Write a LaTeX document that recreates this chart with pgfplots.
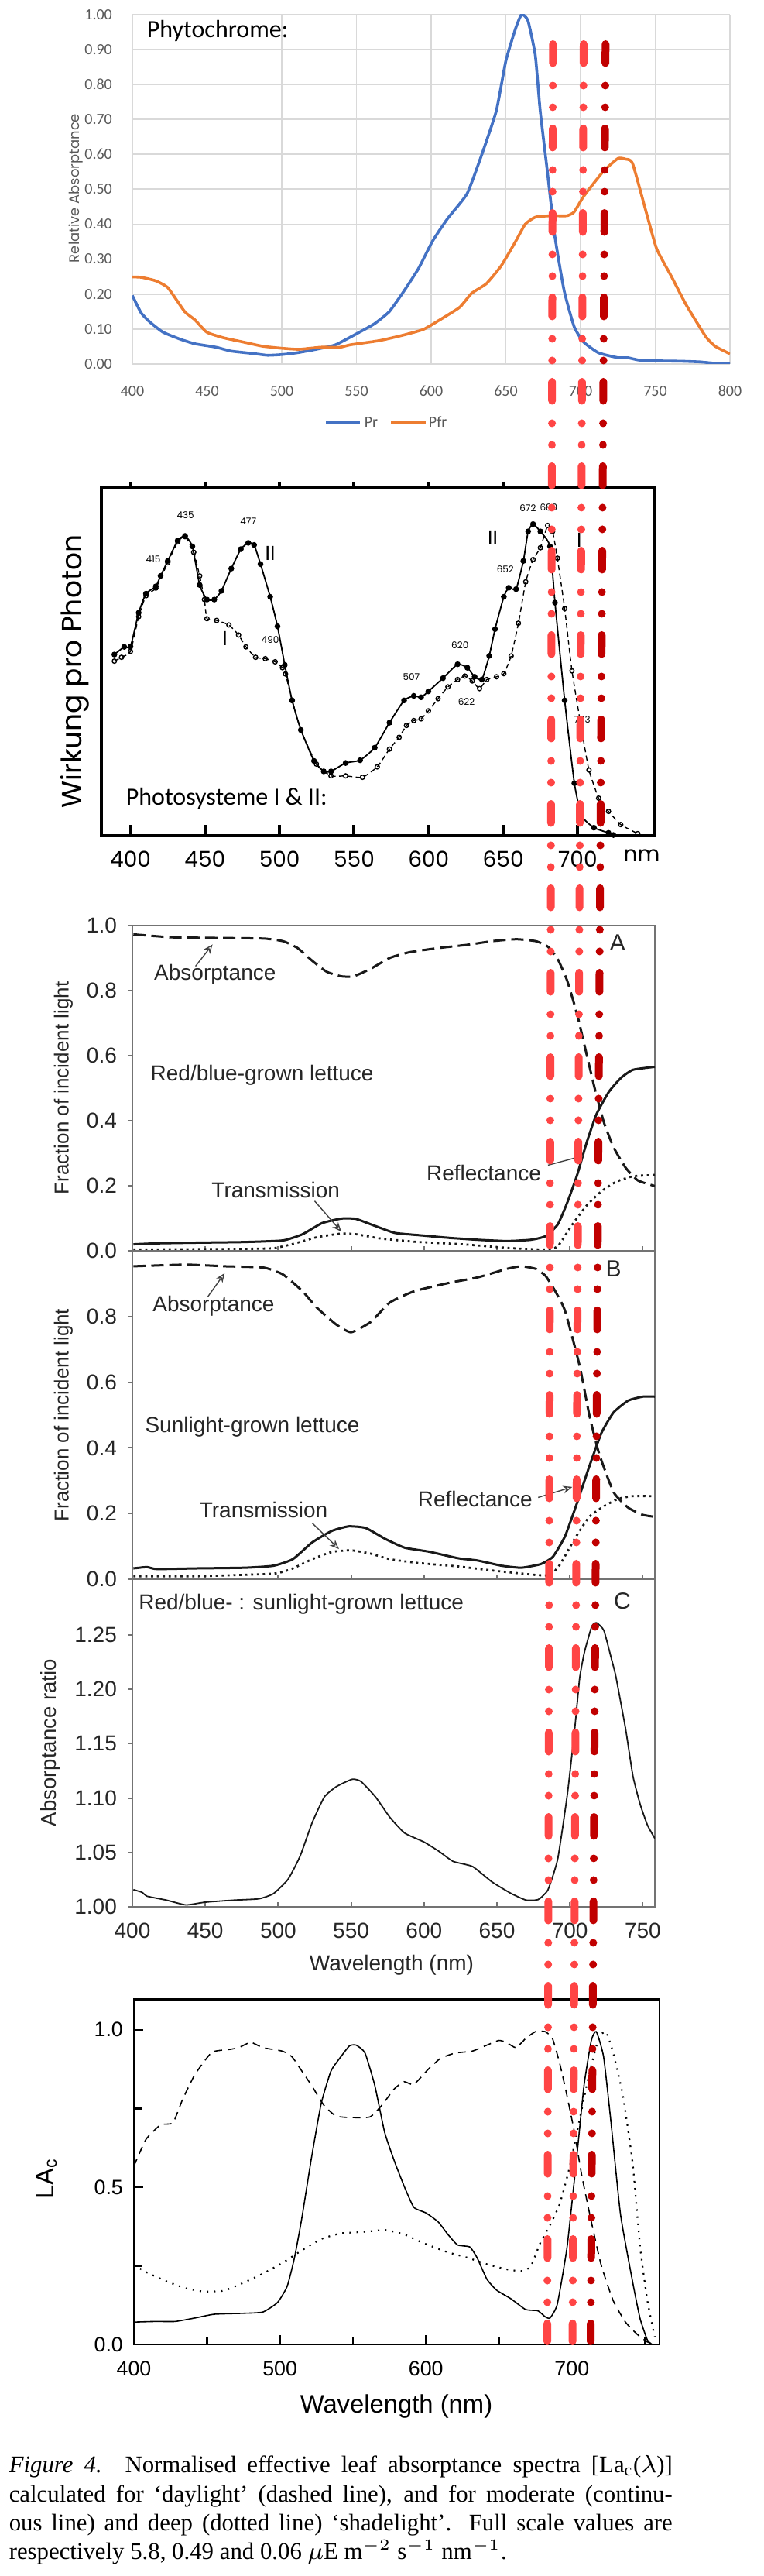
\documentclass[border=0pt]{standalone}
\usepackage{pgfplots}
\pgfplotsset{compat=1.18}
\usetikzlibrary{arrows.meta}
\usepackage{fontspec}
\setmainfont{Liberation Serif}
\newfontfamily\calibri{Carlito}
\newfontfamily\arial{Liberation Sans}
\newfontfamily\gothic{Poppins}
\definecolor{prblue}{HTML}{4472C4}
\definecolor{pfrorange}{HTML}{ED7D31}
\definecolor{redlight}{HTML}{FF4545}
\definecolor{reddark}{HTML}{C00000}
\definecolor{xlgray}{HTML}{595959}
\newcommand{\fs}[1]{\fontsize{#1}{#1}\selectfont}

\pgfplotsset{
  lettuce/.style={anchor=south west, scale only axis, width=168.75pt,
    xmin=400, xmax=758.3,
    axis line style={black!55, line width=0.5pt},
    xtick={400,450,...,750},
    xtick align=inside, ytick align=outside,
    xtick pos=left, ytick pos=left,
    major tick length=1.5pt, tick style={black!55, line width=0.5pt},
    tick label style={font=\arial\fs{7}, text=black!85, /pgf/number format/assume math mode=true}},
}
\tikzset{
  arr/.style={-{Stealth[open,length=3pt,width=2.5pt]}, black!75, line width=0.35pt},
  lbl/.style={font=\arial\fs{7}, text=black!85, inner sep=0pt},
}

\begin{document}
\begin{tikzpicture}
\path[use as bounding box] (0pt,0pt) rectangle (246.5pt,-831.5pt);

% ---------- Phytochrome ----------
\begin{axis}[at={(42.75pt,-117.5pt)}, anchor=south west, scale only axis,
  width=193pt, height=112.85pt,
  xmin=400, xmax=800, ymin=0, ymax=1,
  xtick={400,450,...,800},
  ytick={0,0.1,0.2,0.3,0.4,0.5,0.6,0.7,0.8,0.9,1.0},
  grid=major, grid style={draw=black!15, line width=0.45pt},
  axis line style={draw=none}, major tick length=0pt,
  tick label style={font=\calibri\fs{5}, text=xlgray, /pgf/number format/assume math mode=true},
  yticklabel style={xshift=-3pt, /pgf/number format/.cd, fixed, fixed zerofill, precision=2},
  xticklabel style={yshift=-3.5pt},
]
\addplot[prblue, line width=0.9pt, smooth, tension=0.3] coordinates {
(400,0.196) (405.9,0.146) (412,0.119) (420.5,0.091) (432,0.071) (441.7,0.058)
(456,0.048) (466,0.037) (480.8,0.030) (490.5,0.025) (500,0.027) (510,0.032)
(523,0.042) (536,0.055) (552,0.091) (562,0.115) (572,0.150) (582,0.210)
(591.5,0.273) (601,0.352) (611,0.416) (624,0.487) (633.8,0.598) (643.6,0.724)
(650,0.867) (656.7,0.962) (660.6,1.000) (664.8,0.982) (669.7,0.883) (673,0.724)
(677.8,0.550) (682.7,0.368) (689,0.210) (695.7,0.107) (702,0.063) (712,0.032)
(725,0.018) (731.6,0.018) (741,0.010) (767,0.008) (780,0.006) (790,0.002) (800,0.002)};
\addplot[pfrorange, line width=0.9pt, smooth, tension=0.3] coordinates {
(400,0.249) (405.9,0.248) (415.6,0.238) (423.8,0.218) (435,0.150) (441.7,0.127)
(449.8,0.091) (461,0.075) (474,0.063) (487,0.051) (500,0.045) (511.7,0.042)
(526,0.048) (539,0.048) (546,0.055) (565.5,0.067) (581.7,0.083) (594.8,0.099)
(604.5,0.123) (619,0.162) (627,0.202) (637,0.230) (646.9,0.281) (656.7,0.352)
(663,0.400) (669.7,0.420) (679.5,0.424) (690.8,0.424) (695.7,0.435) (702,0.479)
(715,0.550) (725,0.588) (730,0.586) (734.8,0.574) (744.6,0.424) (751,0.329)
(761,0.249) (770.6,0.170) (783.7,0.079) (790,0.051) (800,0.029)};
\end{axis}

% ---------- Photosysteme I & II ----------
\begin{axis}[at={(32.75pt,-269.75pt)}, anchor=south west, scale only axis,
  width=178.75pt, height=112.25pt,
  xmin=380.5, xmax=751.7, ymin=0, ymax=1,
  axis line style={line width=1.2pt},
  xtick={400,450,...,700}, ytick=\empty, xtick pos=left, tick align=inside,
  major tick length=3.5pt, tick style={line width=1pt, black},
  tick label style={font=\gothic\fs{7}, /pgf/number format/assume math mode=true},
  xticklabel style={yshift=-1.5pt},
]
\addplot[black, line width=0.45pt, smooth, tension=0.3, mark=*, mark size=0.7pt] coordinates {
(389.2,0.521) (395.8,0.543) (400,0.544) (405.5,0.641) (410.4,0.696) (417,0.717)
(420.2,0.747) (425,0.790) (431.7,0.849) (436.6,0.862) (441.5,0.832) (446.4,0.721)
(451.3,0.679) (456.2,0.679) (461,0.704) (467.6,0.768) (474,0.824) (479,0.842)
(482.9,0.836) (487.2,0.781) (493.7,0.687) (498.6,0.602) (503.5,0.491) (508.4,0.389)
(514.3,0.304) (523.1,0.215) (529.6,0.185) (534.5,0.185) (544.3,0.209) (554,0.217)
(563.8,0.253) (573.7,0.325) (583.5,0.389) (590,0.402) (594.9,0.398) (599.8,0.415)
(609.6,0.453) (619.4,0.493) (625.9,0.483) (630.8,0.457) (635.7,0.449) (640.6,0.517)
(644.5,0.594) (650.4,0.687) (653.7,0.713) (658.6,0.709) (663.5,0.790) (666.7,0.875)
(670,0.896) (674.9,0.875) (681.4,0.832) (684.7,0.670) (691.2,0.389) (697.7,0.151)
(702.6,0.057) (710.8,0.023) (720.6,0.008) (723.9,0.002)};
\addplot[black, line width=0.35pt, dash pattern=on 1.6pt off 1.1pt, smooth, tension=0.3,
  mark=o, mark size=0.7pt, mark options={solid, fill=white}] coordinates {
(389.2,0.502) (394,0.513) (400,0.530) (405.5,0.630) (410.4,0.690) (417,0.712)
(425,0.785) (431.7,0.845) (436.6,0.860) (442.4,0.815) (446.4,0.747) (449.6,0.679)
(451.3,0.624) (457.8,0.619) (466,0.606) (472.5,0.577) (477.4,0.543) (483.9,0.513)
(490.4,0.509) (497,0.500) (501.9,0.483) (504,0.465) (508.4,0.389) (514.3,0.304)
(524.7,0.206) (534.5,0.172) (544.3,0.172) (555.6,0.168) (565.5,0.198) (573.7,0.249)
(580.2,0.283) (585.1,0.317) (590,0.331) (594.9,0.336) (599.8,0.359) (606.3,0.394)
(612.9,0.428) (619.4,0.449) (624.3,0.459) (629.2,0.445) (634.1,0.423) (639,0.449)
(645.5,0.457) (650.4,0.466) (655.3,0.517) (660.2,0.611) (665.1,0.730) (670,0.794)
(674.9,0.828) (679.8,0.892) (683.1,0.875) (686.3,0.798) (691.2,0.653) (696.1,0.474)
(702.6,0.304) (707.5,0.189) (714,0.108) (720.6,0.070) (728.8,0.032) (740.2,0.006)};
\node[font=\gothic\fs{3}] at (axis cs:436.9,0.922) {435};
\node[font=\gothic\fs{3}] at (axis cs:479,0.903) {477};
\node[font=\gothic\fs{3}] at (axis cs:415.3,0.794) {415};
\node[font=\gothic\fs{3}] at (axis cs:493.7,0.564) {490};
\node[font=\gothic\fs{3}] at (axis cs:588.4,0.457) {507};
\node[font=\gothic\fs{3}] at (axis cs:621,0.547) {620};
\node[font=\gothic\fs{3}] at (axis cs:625.3,0.385) {622};
\node[font=\gothic\fs{3}] at (axis cs:651.4,0.766) {652};
\node[font=\gothic\fs{3}] at (axis cs:666.5,0.943) {672};
\node[font=\gothic\fs{3}] at (axis cs:680.5,0.943) {680};
\node[font=\gothic\fs{3}] at (axis cs:703,0.334) {703};
\node[font=\gothic\fs{6.5}] at (axis cs:493.7,0.811) {II};
\node[font=\gothic\fs{6.5}] at (axis cs:463.3,0.568) {I};
\node[font=\gothic\fs{6.5}] at (axis cs:643,0.856) {II};
\node[font=\gothic\fs{6.5}] at (axis cs:701,0.849) {I};
\end{axis}
\begin{axis}[at={(32.75pt,-269.75pt)}, anchor=south west, scale only axis,
  width=178.75pt, height=112.25pt,
  xmin=380.5, xmax=751.7, ymin=0, ymax=1,
  axis x line*=top, axis y line=none, axis line style={line width=1.2pt},
  xtick={400,450,...,650}, xticklabels={}, tick align=outside,
  major tick length=2pt, tick style={line width=1pt, black},
]
\end{axis}

% ---------- A: red/blue-grown lettuce ----------
\begin{axis}[lettuce, at={(42.75pt,-403.75pt)}, height=105.1pt,
  ymin=0, ymax=1, ytick={0,0.2,0.4,0.6,0.8,1.0}, xticklabels={},
  yticklabel style={/pgf/number format/.cd, fixed, fixed zerofill, precision=1},
]
\addplot[black!90, line width=0.75pt, dash pattern=on 4pt off 1.8pt, smooth, tension=0.3] coordinates {
(400.7,0.972) (426.7,0.963) (456.7,0.961) (490,0.959) (503.3,0.951) (513.3,0.930)
(523.3,0.891) (533.3,0.857) (543.3,0.843) (551.7,0.843) (563.3,0.866) (576.7,0.900)
(590,0.917) (610,0.930) (630,0.940) (646.7,0.951) (663.3,0.957) (676.7,0.951)
(685,0.934) (691.7,0.896) (698.3,0.828) (705,0.726) (710,0.632) (716.7,0.505)
(723.3,0.395) (730,0.318) (738.3,0.255) (746.7,0.216) (758.3,0.199)};
\addplot[black!90, line width=0.75pt, smooth, tension=0.3] coordinates {
(400.7,0.020) (416.7,0.023) (443.3,0.025) (476.7,0.027) (503.3,0.032) (516.7,0.051)
(530,0.085) (543.3,0.099) (553.3,0.098) (566.7,0.076) (580,0.055) (596.7,0.048)
(616.7,0.040) (636.7,0.034) (656.7,0.030) (673.3,0.034) (683.3,0.045) (691.7,0.081)
(698.3,0.149) (705,0.233) (711.7,0.335) (718.3,0.420) (726.7,0.488) (735,0.531)
(743.3,0.556) (758.3,0.565)};
\addplot[black!90, line width=0.7pt, dash pattern=on 0.7pt off 1.2pt, smooth, tension=0.3] coordinates {
(400.7,0.004) (476.7,0.006) (496.7,0.008) (510,0.021) (526.7,0.042) (543.3,0.053)
(553.3,0.051) (570,0.038) (593.3,0.028) (626.7,0.020) (660,0.008) (683.3,0.004)
(691.7,0.014) (701.7,0.081) (711.7,0.140) (721.7,0.183) (731.7,0.212) (743.3,0.229)
(758.3,0.233)};
\node[lbl] at (axis cs:456.7,0.849) {Absorptance};
\draw[arr] (axis cs:443.3,0.874) -- (axis cs:455,0.941);
\node[lbl] at (axis cs:489,0.539) {Red/blue-grown lettuce};
\node[lbl] at (axis cs:498.3,0.187) {Transmission};
\draw[arr] (axis cs:525,0.153) -- (axis cs:543.3,0.059);
\node[lbl] at (axis cs:641,0.239) {Reflectance};
\draw[arr] (axis cs:685,0.263) -- (axis cs:710,0.293);
\node[lbl, font=\arial\fs{7.5}] at (axis cs:732.7,0.946) {A};
\end{axis}

% ---------- B: sunlight-grown lettuce ----------
\begin{axis}[lettuce, at={(42.75pt,-509.75pt)}, height=106pt,
  ymin=0, ymax=1, ytick={0,0.2,0.4,0.6,0.8}, xticklabels={},
  yticklabel style={/pgf/number format/.cd, fixed, fixed zerofill, precision=1},
]
\addplot[black!90, line width=0.75pt, dash pattern=on 4pt off 1.8pt, smooth, tension=0.3] coordinates {
(400.7,0.953) (436.7,0.958) (463.3,0.953) (490,0.949) (503.3,0.928) (516.7,0.877)
(526.7,0.826) (540,0.775) (550,0.752) (563.3,0.783) (576.7,0.843) (593.3,0.877)
(616.7,0.902) (636.7,0.919) (656.7,0.945) (666.7,0.953) (676.7,0.945) (683.3,0.924)
(690,0.877) (696.7,0.817) (706.7,0.650) (713.3,0.501) (720,0.383) (730,0.265)
(740,0.218) (750,0.196) (758.3,0.190)};
\addplot[black!90, line width=0.75pt, smooth, tension=0.3] coordinates {
(400.7,0.033) (410,0.037) (416.7,0.031) (443.3,0.033) (476.7,0.035) (496.7,0.041)
(510,0.061) (523.3,0.112) (536.7,0.147) (548.3,0.161) (560,0.156) (573.3,0.123)
(586.7,0.096) (603.3,0.084) (623.3,0.064) (636.7,0.057) (653.3,0.041) (666.7,0.035)
(680,0.046) (688.3,0.068) (696.7,0.131) (705,0.233) (713.3,0.343) (721.7,0.446)
(730,0.508) (740,0.544) (750,0.556) (758.3,0.556)};
\addplot[black!90, line width=0.7pt, dash pattern=on 0.7pt off 1.2pt, smooth, tension=0.3] coordinates {
(400.7,0.009) (443.3,0.009) (496.7,0.017) (510,0.033) (523.3,0.061) (536.7,0.083)
(550,0.088) (563.3,0.078) (576.7,0.061) (596.7,0.049) (623.3,0.039) (650,0.025)
(676.7,0.013) (686.7,0.013) (693.3,0.045) (703.3,0.123) (713.3,0.190) (723.3,0.222)
(733.3,0.245) (743.3,0.253) (758.3,0.253)};
\node[lbl] at (axis cs:455.7,0.833) {Absorptance};
\draw[arr] (axis cs:451.7,0.860) -- (axis cs:463.3,0.932);
\node[lbl, font=\arial\fs{7.5}] at (axis cs:730,0.945) {B};
\node[lbl] at (axis cs:482.3,0.463) {Sunlight-grown lettuce};
\node[lbl] at (axis cs:490,0.210) {Transmission};
\draw[arr] (axis cs:523.3,0.171) -- (axis cs:541.7,0.092);
\node[lbl] at (axis cs:635,0.245) {Reflectance};
\draw[arr] (axis cs:678.3,0.249) -- (axis cs:701.7,0.281);
\end{axis}

% ---------- C: absorptance ratio ----------
\begin{axis}[lettuce, at={(42.75pt,-615.575pt)}, height=105.825pt,
  ymin=1.0, ymax=1.301, ytick={1.00,1.05,1.10,1.15,1.20,1.25},
  yticklabel style={/pgf/number format/.cd, fixed, fixed zerofill, precision=2},
  xticklabel style={yshift=-1.5pt},
]
\addplot[black!90, line width=0.45pt, smooth, tension=0.3] coordinates {
(400.7,1.016) (406.7,1.0135) (410,1.010) (423.3,1.0064) (436.7,1.002) (450,1.0045)
(470,1.0064) (486.7,1.0076) (496.7,1.0123) (506.7,1.0254) (515,1.0467) (523.3,1.0775)
(531.7,1.1012) (540,1.1107) (550.7,1.1173) (556.7,1.1154) (566.7,1.1012) (576.7,1.0822)
(586.7,1.068) (600,1.0597) (610,1.0514) (620,1.0419) (633.3,1.0372) (646.7,1.023)
(660,1.0123) (670,1.0064) (678.3,1.0069) (685,1.0159) (691.7,1.0443) (698.3,1.1036)
(703.3,1.163) (706.7,1.210) (710,1.234) (715,1.2576) (718.3,1.261) (723.3,1.254)
(728.3,1.229) (731.5,1.212) (738.3,1.163) (743.3,1.120) (748.3,1.094) (753.3,1.075)
(758.3,1.063)};
\node[lbl, anchor=west] at (axis cs:404,1.278) {Red/blue- : sunlight-grown lettuce};
\node[lbl, font=\arial\fs{7.5}] at (axis cs:736,1.281) {C};
\end{axis}

% ---------- LAc ----------
\begin{axis}[at={(43.25pt,-756.75pt)}, anchor=south west, scale only axis,
  width=169.75pt, height=111.325pt,
  xmin=400, xmax=760, ymin=0, ymax=1.096,
  axis line style={line width=0.7pt}, tick align=inside,
  xtick={400,500,600,700}, minor xtick={450,550,650,750},
  ytick={0,0.5,1}, minor ytick={0.25,0.75},
  xtick pos=left, ytick pos=left,
  major tick length=3pt, minor tick length=2.5pt, tick style={line width=0.6pt, black},
  yticklabel style={/pgf/number format/.cd, fixed, fixed zerofill, precision=1},
  tick label style={font=\arial\fs{6.7}, /pgf/number format/assume math mode=true},
  xticklabel style={yshift=-2pt},
]
\addplot[black, line width=0.4pt, dash pattern=on 2.5pt off 1.8pt, smooth, tension=0.3] coordinates {
(400,0.567) (408.3,0.652) (418.3,0.698) (426.7,0.704) (433.3,0.778) (441.7,0.857)
(453.3,0.928) (465,0.937) (471.7,0.943) (480,0.960) (488.3,0.943) (501.7,0.932)
(508.3,0.914) (515,0.869) (521.7,0.823) (530,0.761) (538.3,0.726) (548.3,0.721)
(561.7,0.723) (570,0.761) (578.3,0.812) (585,0.835) (591.7,0.826) (601.7,0.875)
(610,0.909) (620,0.926) (631.7,0.932) (641.7,0.951) (650,0.966) (655,0.960)
(661.7,0.943) (668.3,0.972) (675,0.994) (681.7,0.994) (686.7,0.972) (691.7,0.892)
(696.7,0.789) (701.7,0.675) (706.7,0.538) (713.3,0.390) (720,0.253) (728.3,0.139)
(736.7,0.071) (745,0.031) (751.7,0.008) (756.7,0.0)};
\addplot[black, line width=0.4pt, smooth, tension=0.3] coordinates {
(400,0.071) (415,0.073) (428.3,0.073) (441.7,0.084) (455,0.096) (475,0.099)
(488.3,0.103) (498.3,0.133) (505,0.185) (510,0.276) (515,0.401) (521.7,0.595)
(528.3,0.766) (535,0.869) (541.7,0.914) (547.7,0.949) (552.3,0.951) (558.3,0.926)
(565,0.823) (571.7,0.675) (578.3,0.584) (585,0.504) (591.7,0.436) (600,0.418)
(608.3,0.390) (615,0.350) (621.7,0.316) (630,0.310) (635,0.276) (641.7,0.208)
(648.3,0.173) (658.3,0.145) (668.3,0.111) (676.7,0.107) (681.7,0.088) (685,0.084)
(690,0.128) (696.7,0.310) (703.3,0.595) (708.3,0.823) (713.3,0.966) (716.7,0.994)
(721.7,0.914) (726.7,0.709) (733.3,0.413) (741.7,0.196) (746.7,0.082) (751.7,0.014)
(755,0.0)};
\addplot[black, line width=0.55pt, dash pattern=on 0.5pt off 1.8pt, smooth, tension=0.3] coordinates {
(400,0.253) (408.3,0.230) (421.7,0.202) (435,0.179) (448.3,0.168) (461.7,0.171)
(475,0.196) (488.3,0.225) (501.7,0.259) (515,0.299) (528.3,0.335) (541.7,0.353)
(558.3,0.358) (571.7,0.364) (585,0.350) (598.3,0.322) (615,0.293) (628.3,0.276)
(641.7,0.255) (655,0.239) (665,0.233) (671.7,0.247) (678.3,0.322) (685,0.379)
(691.7,0.447) (698.3,0.561) (705,0.709) (711.7,0.857) (718.3,0.972) (723.3,0.994)
(728.3,0.926) (735,0.789) (741.7,0.572) (746.7,0.310) (751.7,0.139) (756.7,0.025)};
\end{axis}

% ---------- free text and overlay, in pixel units ----------
\begin{scope}[x=0.25pt, y=-0.25pt]
\node[rotate=90, font=\gothic\fs{4.5}, text=xlgray] at (97.5,243) {Relative Absorptance};
\node[anchor=west, font=\calibri\fs{8}, inner sep=0pt] at (189,40) {Phytochrome:};
\draw[prblue, line width=1pt] (421,545) -- (465,545);
\node[anchor=west, font=\calibri\fs{5}, text=xlgray, inner sep=0pt] at (470,545) {Pr};
\draw[pfrorange, line width=1pt] (505,545) -- (550,545);
\node[anchor=west, font=\calibri\fs{5}, text=xlgray, inner sep=0pt] at (553,545) {Pfr};

\node[rotate=90, font=\gothic\fs{9}] at (97,867) {Wirkung pro Photon};
\node[anchor=west, font=\calibri\fs{8}, inner sep=0pt] at (162,1031) {Photosysteme I \& II:};
\node[font=\gothic\fs{7}] at (829,1105) {nm};

\node[rotate=90, font=\arial\fs{6.5}, text=black!85] at (82,1405) {Fraction of incident light};
\node[rotate=90, font=\arial\fs{6.5}, text=black!85] at (82,1827) {Fraction of incident light};
\node[rotate=90, font=\arial\fs{6.9}, text=black!85] at (65,2250) {Absorptance ratio};
\node[font=\arial\fs{7}, text=black!85] at (506,2537) {Wavelength (nm)};

\node[rotate=90, font=\arial\fs{8.2}] at (60,2813) {LA\textsubscript{c}};
\node[font=\arial\fs{8.2}] at (512,3107) {Wavelength (nm)};

\node[anchor=base west, inner sep=0pt, font=\fs{7.7}] at (11,3192)
  {\hbox to 214.25pt{\textit{Figure 4.} Normalised effective leaf absorptance spectra [La\textsubscript{c}($\lambda$)]}};
\node[anchor=base west, inner sep=0pt, font=\fs{7.7}] at (11,3230)
  {\hbox to 214.25pt{calculated for ‘daylight’ (dashed line), and for moderate (continu-}};
\node[anchor=base west, inner sep=0pt, font=\fs{7.7}] at (11,3267.5)
  {\hbox to 214.25pt{ous line) and deep (dotted line) ‘shadelight’. Full scale values are}};
\node[anchor=base west, inner sep=0pt, font=\fs{7.7}] at (11,3304)
  {respectively 5.8, 0.49 and 0.06 $\mu$E m$^{-2}$ s$^{-1}$ nm$^{-1}$.};

\tikzset{redline/.style={line width=2.5pt, line cap=round,
  dash pattern=on 6.125pt off 7.25pt on 0pt off 7pt on 0pt off 6.875pt}}
\draw[redline, redlight] (714.3,57) -- (707,3023);
\draw[redline, redlight] (754,57) -- (739.6,3023);
\draw[redline, reddark] (782.3,57) -- (763,3023);
\end{scope}
\end{tikzpicture}
\end{document}
